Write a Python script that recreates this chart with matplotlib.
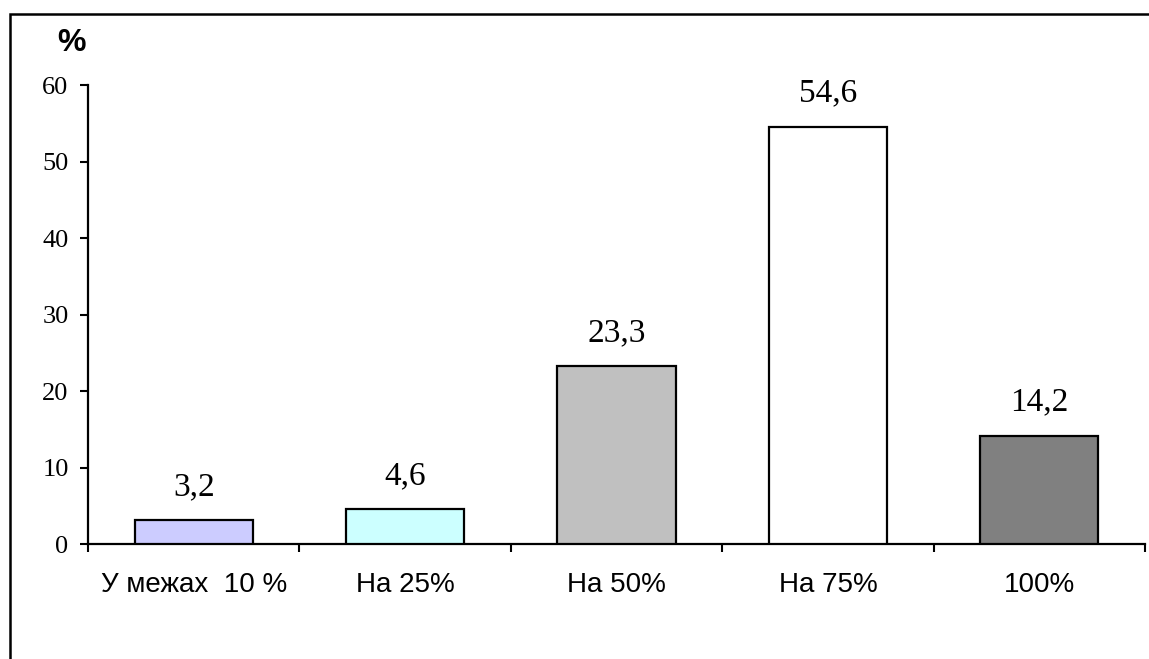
import matplotlib
matplotlib.use("Agg")
import matplotlib.pyplot as plt
from matplotlib.patches import Rectangle
import numpy as np

categories = ["У межах  10 %", "На 25%", "На 50%", "На 75%", "100%"]
values = [3.2, 4.6, 23.3, 54.6, 14.2]
value_labels = ["3,2", "4,6", "23,3", "54,6", "14,2"]
bar_colors = ["#CCCCFF", "#CCFFFF", "#C0C0C0", "#FFFFFF", "#808080"]
y_ticks = [0, 10, 20, 30, 40, 50, 60]

fig = plt.figure(figsize=(11.49, 6.59), dpi=100)
ax = fig.add_axes([0.0766, 0.174, 0.9199, 0.6966])

x = np.arange(len(categories))
ax.bar(x, values, width=0.56, color=bar_colors, edgecolor="black",
       linewidth=1.6, zorder=3)

for xi, v, lab in zip(x, values, value_labels):
    ax.annotate(lab, (xi, v), xytext=(0, 18), textcoords="offset points",
                ha="center", va="baseline", fontsize=24,
                fontfamily="Liberation Serif")

ax.set_xlim(-0.5, len(categories) - 0.5)
ax.set_ylim(0, 60)

ax.set_yticks(y_ticks)
ax.set_yticklabels([str(t) for t in y_ticks], fontfamily="Liberation Serif",
                   fontsize=19)
ax.tick_params(axis="y", direction="out", length=6, width=1.5, pad=8)

ax.set_xticks(x)
ax.set_xticklabels(categories, fontfamily="Liberation Sans", fontsize=20)
ax.set_xticks(np.arange(-0.5, len(categories), 1.0), minor=True)
ax.tick_params(axis="x", which="major", length=0, pad=20)
ax.tick_params(axis="x", which="minor", direction="out", length=6, width=1.5)

for side in ("top", "right"):
    ax.spines[side].set_visible(False)
for side in ("left", "bottom"):
    ax.spines[side].set_linewidth(1.6)

fig.text(0.062, 0.934, "%", fontfamily="Liberation Sans", fontweight="bold",
         fontsize=23, ha="center", va="center")

# outer chart-area border
fig.patches.append(Rectangle((10 / 1149, -0.05), 1.2, 1 - 14 / 659 + 0.05,
                             transform=fig.transFigure, fill=False,
                             edgecolor="black", linewidth=1.8))

fig.savefig("out.png", dpi=100)
